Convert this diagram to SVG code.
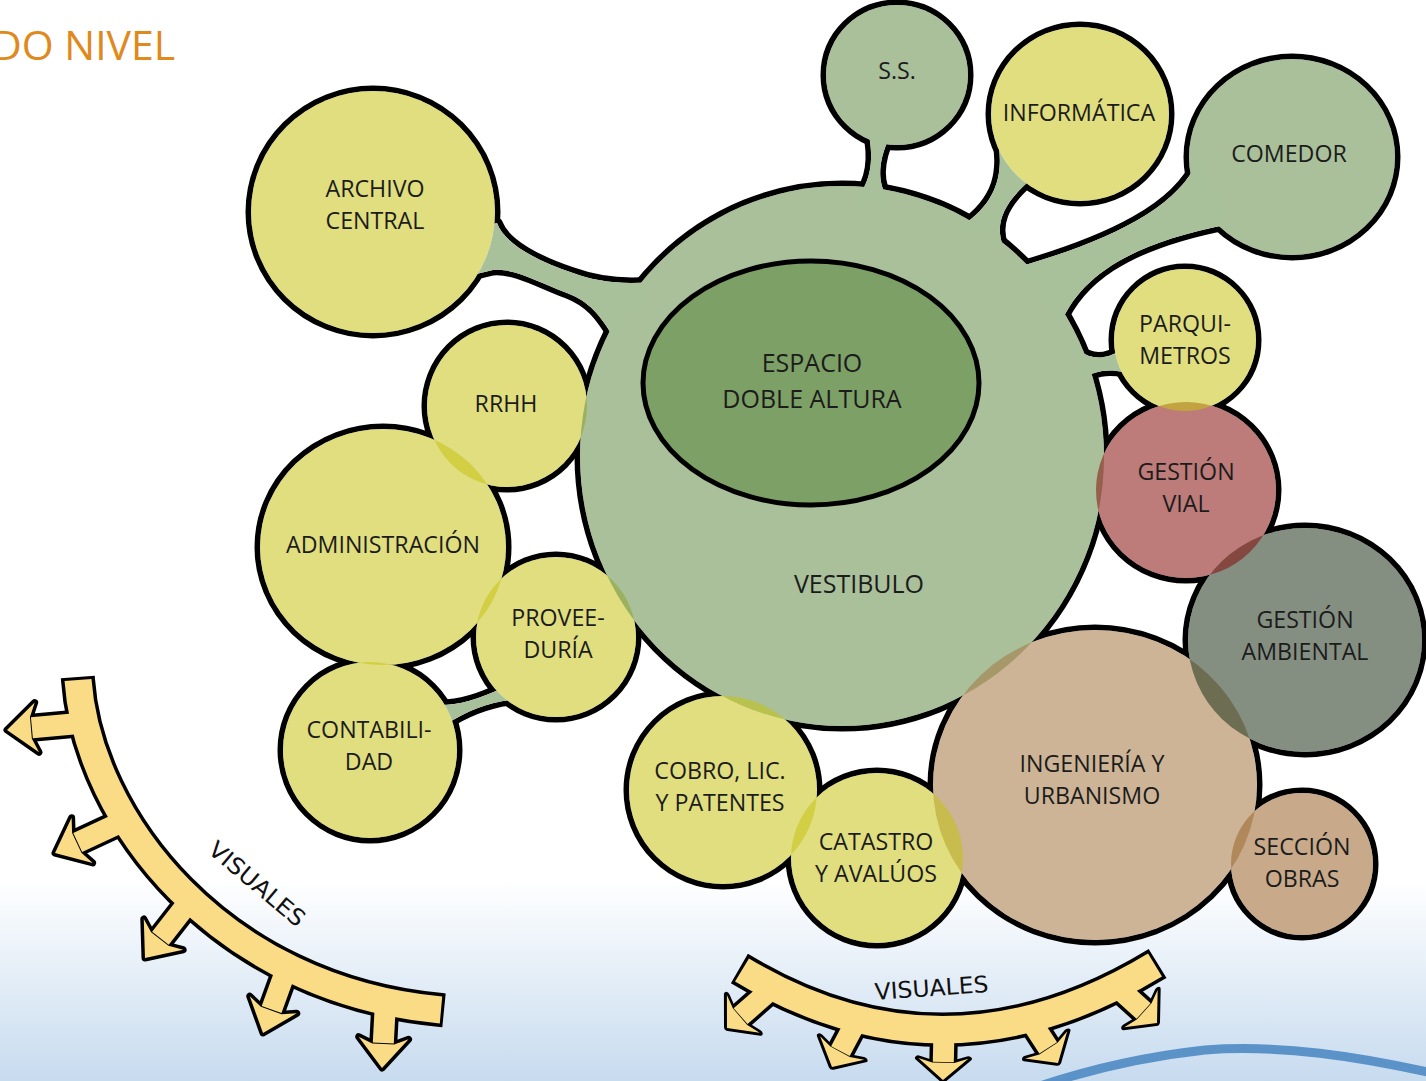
<svg xmlns="http://www.w3.org/2000/svg" width="1426" height="1081" viewBox="0 0 1426 1081">
<defs>
<style>
.ol{fill:#000;stroke:#000;stroke-width:11;stroke-linejoin:round}
.wb{fill:#fff}
.fy{fill:#c7c314;fill-opacity:.55}
.fg{fill:#638d47;fill-opacity:.55}
.fr{fill:#870f0b;fill-opacity:.55}
.fa{fill:#1f331c;fill-opacity:.55}
.ft{fill:#a47740;fill-opacity:.55}
.fo{fill:#9b642a;fill-opacity:.55}
.br{fill:#a9c19a}
.lbl{font-family:"Open Sans","Noto Sans",sans-serif;font-size:23.2px;fill:#1c1c1c;text-anchor:middle}
.big{font-size:25px}
.bandk{fill:none;stroke:#000;stroke-width:34}
.bandy{fill:none;stroke:#f9dc85;stroke-width:27}
.shk{stroke:#000;stroke-width:28}
.shy{stroke:#f9dc85;stroke-width:21}
.hk{fill:#000;stroke:#000;stroke-width:7;stroke-linejoin:round}
.hy{fill:#f9dc85}
.vis{font-family:"DejaVu Sans",sans-serif;font-size:23px;fill:#111;text-anchor:middle}
</style>
<linearGradient id="bg" x1="0" y1="0" x2="0" y2="1">
<stop offset="0" stop-color="#ffffff"/>
<stop offset="1" stop-color="#c7dbef"/>
</linearGradient>
<ellipse id="s-archivo" cx="373" cy="212" rx="122" ry="121"/>
<ellipse id="s-ss" cx="897" cy="75" rx="71" ry="70"/>
<ellipse id="s-info" cx="1080" cy="114" rx="89" ry="87"/>
<ellipse id="s-comedor" cx="1292" cy="157" rx="103" ry="98"/>
<ellipse id="s-rrhh" cx="507" cy="406" rx="80" ry="81"/>
<ellipse id="s-admin" cx="383" cy="547" rx="123" ry="118"/>
<ellipse id="s-prov" cx="556" cy="637" rx="80" ry="80"/>
<ellipse id="s-contab" cx="370" cy="750" rx="87" ry="88"/>
<ellipse id="s-vest" cx="842" cy="456" rx="262" ry="270"/>
<ellipse id="s-cobro" cx="723" cy="790" rx="94" ry="94"/>
<ellipse id="s-catastro" cx="877" cy="858" rx="86" ry="85"/>
<ellipse id="s-ing" cx="1095" cy="785" rx="162" ry="155"/>
<ellipse id="s-obras" cx="1302" cy="864" rx="71" ry="71"/>
<ellipse id="s-amb" cx="1305" cy="640" rx="117" ry="112"/>
<ellipse id="s-vial" cx="1186" cy="490" rx="90" ry="88"/>
<ellipse id="s-parq" cx="1185" cy="340" rx="71" ry="71"/>
<path id="b-archivo" d="M478,228 L497,223 C505,245 540,262 573,273 C595,281 620,285 652,282 L614,338 C600,315 590,302 567,293 C540,283 515,268 493,270 L468,276 Z"/>
<path id="b-ss" d="M868,130 C874,158 872,180 856,200 L890,202 C878,186 876,165 890,136 Z"/>
<path id="b-info" d="M997,135 C1004,170 1000,200 962,226 L1003,246 C995,225 1002,205 1028,182 Z"/>
<path id="b-comedor" d="M1198,160 C1178,208 1110,240 1022,266 L1060,325 C1078,282 1120,245 1230,224 Z"/>
<path id="b-parq" d="M1078,350 C1092,360 1104,360 1122,350 L1124,372 C1106,368 1094,372 1082,378 Z"/>
<path id="b-contab" d="M436,705 C455,706 478,700 502,688 L510,700 C488,703 468,710 445,725 Z"/>
<path id="ah" d="M0,0 L-30,-25 L-24,-11 L-24,11 L-30,25 Z"/>
<mask id="mb" maskUnits="userSpaceOnUse" x="0" y="0" width="1426" height="1081">
<rect x="0" y="0" width="1426" height="1081" fill="#fff"/>
<use href="#s-archivo" fill="#000"/><use href="#s-info" fill="#000"/><use href="#s-contab" fill="#000"/>
<use href="#s-prov" fill="#000"/><use href="#s-parq" fill="#000"/>
</mask>
</defs>

<rect x="0" y="0" width="1426" height="1081" fill="#fff"/>
<rect x="0" y="880" width="1426" height="201" fill="url(#bg)"/>
<path d="M1040,1086 C1100,1066 1150,1056 1205,1050 C1280,1044 1360,1057 1432,1073" fill="none" stroke="#5b93c9" stroke-width="9"/>

<g id="title">
<text x="-8" y="60" font-family="'Open Sans','Noto Sans',sans-serif" font-size="41" fill="#e0891d">DO NIVEL</text>
</g>

<g id="outlines">
<use href="#s-archivo" class="ol"/><use href="#s-ss" class="ol"/><use href="#s-info" class="ol"/><use href="#s-comedor" class="ol"/>
<use href="#s-rrhh" class="ol"/><use href="#s-admin" class="ol"/><use href="#s-prov" class="ol"/><use href="#s-contab" class="ol"/>
<use href="#s-vest" class="ol"/><use href="#s-cobro" class="ol"/><use href="#s-catastro" class="ol"/><use href="#s-ing" class="ol"/>
<use href="#s-obras" class="ol"/><use href="#s-amb" class="ol"/><use href="#s-vial" class="ol"/><use href="#s-parq" class="ol"/>
<use href="#b-archivo" class="ol"/><use href="#b-ss" class="ol"/><use href="#b-info" class="ol"/><use href="#b-comedor" class="ol"/>
<use href="#b-parq" class="ol"/><use href="#b-contab" class="ol"/>
</g>
<g id="base">
<use href="#s-archivo" class="wb"/><use href="#s-ss" class="wb"/><use href="#s-info" class="wb"/><use href="#s-comedor" class="wb"/>
<use href="#s-rrhh" class="wb"/><use href="#s-admin" class="wb"/><use href="#s-prov" class="wb"/><use href="#s-contab" class="wb"/>
<use href="#s-vest" class="wb"/><use href="#s-cobro" class="wb"/><use href="#s-catastro" class="wb"/><use href="#s-ing" class="wb"/>
<use href="#s-obras" class="wb"/><use href="#s-amb" class="wb"/><use href="#s-vial" class="wb"/><use href="#s-parq" class="wb"/>
<use href="#b-archivo" class="wb"/><use href="#b-ss" class="wb"/><use href="#b-info" class="wb"/><use href="#b-comedor" class="wb"/>
<use href="#b-parq" class="wb"/><use href="#b-contab" class="wb"/>
</g>

<g id="archivo-central"><use href="#s-archivo" class="fy"/>
<text class="lbl" x="375" y="197">ARCHIVO</text><text class="lbl" x="375" y="229">CENTRAL</text></g>
<g id="ss"><use href="#s-ss" class="fg"/><text class="lbl" x="897" y="79">S.S.</text></g>
<g id="informatica"><use href="#s-info" class="fy"/><text class="lbl" x="1079" y="121">INFORMÁTICA</text></g>
<g id="comedor"><use href="#s-comedor" class="fg"/><text class="lbl" x="1289" y="162">COMEDOR</text></g>
<g id="rrhh"><use href="#s-rrhh" class="fy"/><text class="lbl" x="506" y="412">RRHH</text></g>
<g id="administracion"><use href="#s-admin" class="fy"/><text class="lbl" x="383" y="553">ADMINISTRACIÓN</text></g>
<g id="proveeduria"><use href="#s-prov" class="fy"/>
<text class="lbl" x="558" y="626">PROVEE-</text><text class="lbl" x="558" y="658">DURÍA</text></g>
<g id="contabilidad"><use href="#s-contab" class="fy"/>
<text class="lbl" x="369" y="738">CONTABILI-</text><text class="lbl" x="369" y="770">DAD</text></g>
<g id="vestibulo"><use href="#s-vest" class="fg"/><text class="lbl big" x="859" y="593">VESTIBULO</text></g>
<g id="cobro"><use href="#s-cobro" class="fy"/>
<text class="lbl" x="720" y="779">COBRO, LIC.</text><text class="lbl" x="720" y="811">Y PATENTES</text></g>
<g id="ingenieria"><use href="#s-ing" class="ft"/>
<text class="lbl" x="1092" y="772">INGENIERÍA Y</text><text class="lbl" x="1092" y="804">URBANISMO</text></g>
<g id="catastro"><use href="#s-catastro" class="fy"/>
<text class="lbl" x="876" y="850">CATASTRO</text><text class="lbl" x="876" y="882">Y AVALÚOS</text></g>
<g id="gestion-ambiental"><use href="#s-amb" class="fa"/>
<text class="lbl" x="1305" y="628">GESTIÓN</text><text class="lbl" x="1305" y="660">AMBIENTAL</text></g>
<g id="gestion-vial"><use href="#s-vial" class="fr"/>
<text class="lbl" x="1186" y="480">GESTIÓN</text><text class="lbl" x="1186" y="512">VIAL</text></g>
<g id="parquimetros"><use href="#s-parq" class="fy"/>
<text class="lbl" x="1185" y="332">PARQUI-</text><text class="lbl" x="1185" y="364">METROS</text></g>
<g id="seccion-obras"><use href="#s-obras" class="fo"/>
<text class="lbl" x="1302" y="855">SECCIÓN</text><text class="lbl" x="1302" y="887">OBRAS</text></g>

<g id="connectors" mask="url(#mb)">
<use href="#b-archivo" class="br"/><use href="#b-ss" class="br"/><use href="#b-info" class="br"/>
<use href="#b-comedor" class="br"/><use href="#b-parq" class="br"/><use href="#b-contab" class="br"/>
</g>

<g id="espacio-doble-altura">
<ellipse cx="811" cy="383" rx="168" ry="122" fill="#7da066" stroke="#000" stroke-width="5"/>
<text class="lbl big" x="812" y="372">ESPACIO</text><text class="lbl big" x="812" y="408">DOBLE ALTURA</text>
</g>

<g id="visuales-left">
<path class="bandk" d="M77.8,677 L78,680 C88,820 220,990 441,1010 L444,1010.3"/>
<line class="shk" x1="84" y1="723" x2="31.9" y2="727.8"/>
<line class="shk" x1="118.5" y1="823.4" x2="77.7" y2="842.4"/>
<line class="shk" x1="185" y1="906.8" x2="160.4" y2="938.3"/>
<line class="shk" x1="287" y1="967" x2="271.6" y2="1009.5"/>
<line class="shk" x1="385.4" y1="1003" x2="383.3" y2="1043"/>
<use href="#ah" class="hk" transform="translate(7,730) rotate(175)"/>
<use href="#ah" class="hk" transform="translate(55,853) rotate(155)"/>
<use href="#ah" class="hk" transform="translate(145,958) rotate(128)"/>
<use href="#ah" class="hk" transform="translate(263,1033) rotate(110)"/>
<use href="#ah" class="hk" transform="translate(382,1068) rotate(93)"/>
<path class="bandy" d="M78,680 C88,820 220,990 441,1010"/>
<line class="shy" x1="84" y1="723" x2="31.9" y2="727.8"/>
<line class="shy" x1="118.5" y1="823.4" x2="77.7" y2="842.4"/>
<line class="shy" x1="185" y1="906.8" x2="160.4" y2="938.3"/>
<line class="shy" x1="287" y1="967" x2="271.6" y2="1009.5"/>
<line class="shy" x1="385.4" y1="1003" x2="383.3" y2="1043"/>
<use href="#ah" class="hy" transform="translate(7,730) rotate(175)"/>
<use href="#ah" class="hy" transform="translate(55,853) rotate(155)"/>
<use href="#ah" class="hy" transform="translate(145,958) rotate(128)"/>
<use href="#ah" class="hy" transform="translate(263,1033) rotate(110)"/>
<use href="#ah" class="hy" transform="translate(382,1068) rotate(93)"/>
<text class="vis" transform="translate(252,890) rotate(40)" textLength="118" lengthAdjust="spacingAndGlyphs">VISUALES</text>
</g>

<g id="visuales-bottom">
<path class="bandk" d="M739.4,968.5 L742,970 Q945,1092 1155,965 L1157.6,963.4"/>
<line class="shk" x1="772" y1="988.6" x2="740.6" y2="1016.2"/>
<line class="shk" x1="855.4" y1="1022.8" x2="840.4" y2="1051.1"/>
<line class="shk" x1="944" y1="1030" x2="943.3" y2="1062"/>
<line class="shk" x1="1030.8" y1="1021" x2="1048.2" y2="1047.9"/>
<line class="shk" x1="1116" y1="986" x2="1143.6" y2="1011"/>
<use href="#ah" class="hk" transform="translate(727,1028) rotate(139) scale(0.72,1)"/>
<use href="#ah" class="hk" transform="translate(832,1067) rotate(118) scale(0.72,1)"/>
<use href="#ah" class="hk" transform="translate(943,1080) rotate(91) scale(0.72,1)"/>
<use href="#ah" class="hk" transform="translate(1058,1063) rotate(57) scale(0.72,1)"/>
<use href="#ah" class="hk" transform="translate(1157,1023) rotate(42) scale(0.72,1)"/>
<path class="bandy" d="M742,970 Q945,1092 1155,965"/>
<line class="shy" x1="772" y1="988.6" x2="740.6" y2="1016.2"/>
<line class="shy" x1="855.4" y1="1022.8" x2="840.4" y2="1051.1"/>
<line class="shy" x1="944" y1="1030" x2="943.3" y2="1062"/>
<line class="shy" x1="1030.8" y1="1021" x2="1048.2" y2="1047.9"/>
<line class="shy" x1="1116" y1="986" x2="1143.6" y2="1011"/>
<use href="#ah" class="hy" transform="translate(727,1028) rotate(139) scale(0.72,1)"/>
<use href="#ah" class="hy" transform="translate(832,1067) rotate(118) scale(0.72,1)"/>
<use href="#ah" class="hy" transform="translate(943,1080) rotate(91) scale(0.72,1)"/>
<use href="#ah" class="hy" transform="translate(1058,1063) rotate(57) scale(0.72,1)"/>
<use href="#ah" class="hy" transform="translate(1157,1023) rotate(42) scale(0.72,1)"/>
<text class="vis" transform="translate(932,996) rotate(-4)" textLength="114" lengthAdjust="spacingAndGlyphs">VISUALES</text>
</g>
</svg>
